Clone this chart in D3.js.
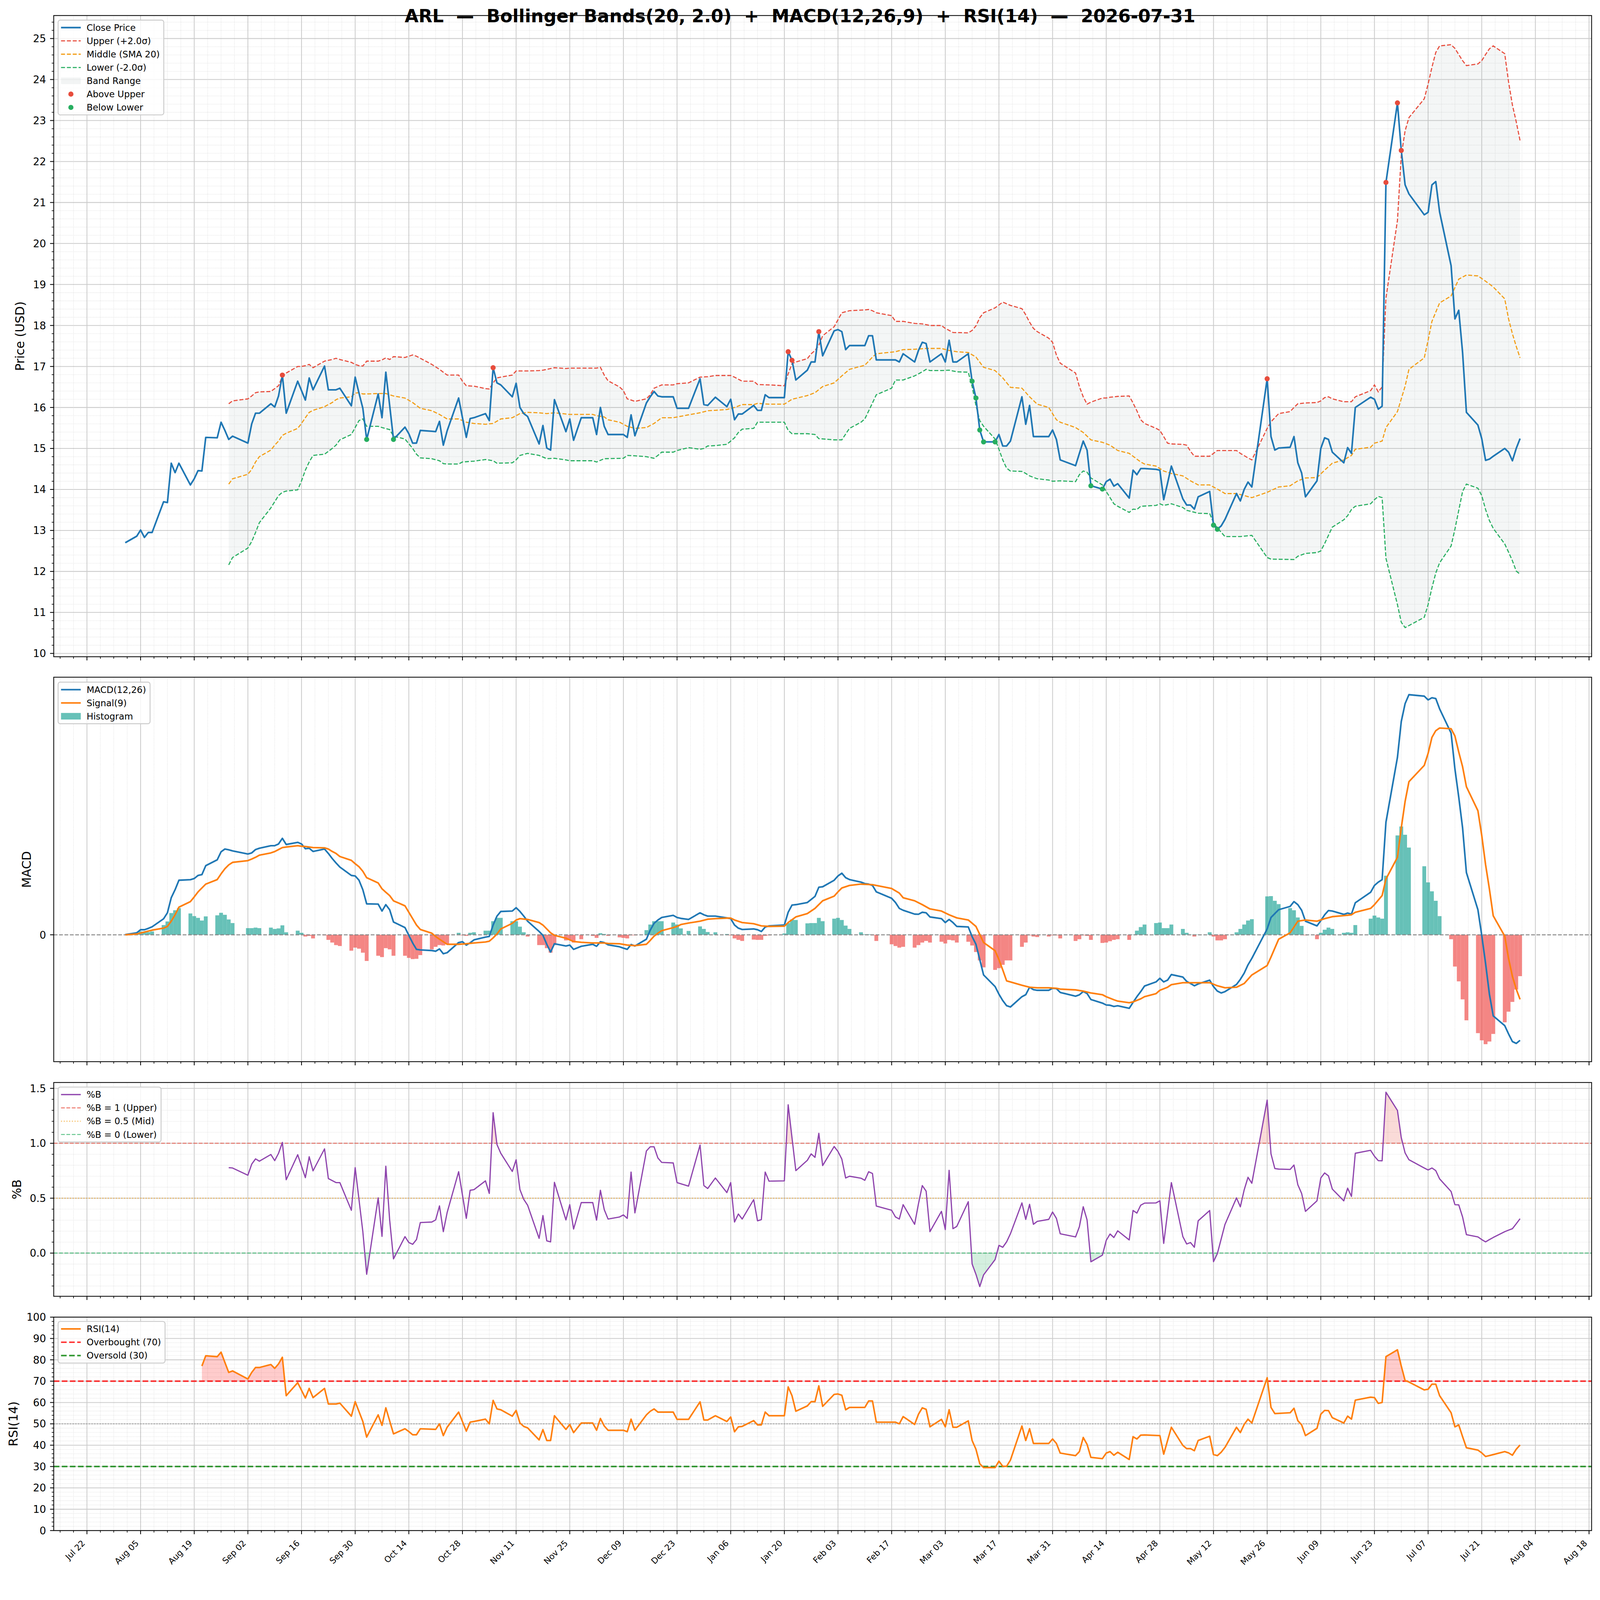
<!DOCTYPE html>
<html><head><meta charset="utf-8">
<script src="https://cdn.jsdelivr.net/npm/d3@7"></script>
<style>
html,body{margin:0;padding:0;background:#fff;overflow:hidden;width:100%;height:100%}
svg{display:block;width:100vw;height:100vh}
text{font-family:"DejaVu Sans",Verdana,sans-serif;fill:#000}
</style>
</head><body>
<svg id="chart" viewBox="0 0 4378 4322" preserveAspectRatio="xMidYMin meet"></svg>
<script>
// ---------------- DATA (dates as MM-DD; Aug–Dec = 2025, Jan–Jul = 2026) ----------------
const closeData = [
["08-01",12.70],["08-04",12.86],["08-05",13.01],["08-06",12.83],["08-07",12.95],["08-08",12.95],["08-11",13.70],["08-12",13.68],
["08-13",14.64],["08-14",14.41],["08-15",14.64],["08-18",14.11],["08-19",14.26],["08-20",14.46],["08-21",14.45],["08-22",15.27],
["08-25",15.26],["08-26",15.64],["08-27",15.44],["08-28",15.22],["08-29",15.30],["09-02",15.13],["09-03",15.60],["09-04",15.86],
["09-05",15.86],["09-08",16.09],["09-09",16.01],["09-10",16.28],["09-11",16.79],["09-12",15.86],["09-15",16.64],["09-16",16.41],
["09-17",16.18],["09-18",16.72],["09-19",16.43],["09-22",17.01],["09-23",16.43],["09-24",16.43],["09-25",16.43],["09-26",16.47],
["09-29",16.04],["09-30",16.74],["10-01",16.35],["10-02",15.98],["10-03",15.22],["10-06",16.33],["10-07",15.75],["10-08",16.86],
["10-09",16.05],["10-10",15.22],["10-13",15.52],["10-14",15.36],["10-15",15.13],["10-16",15.13],["10-17",15.44],["10-20",15.42],
["10-21",15.41],["10-22",15.66],["10-23",15.08],["10-24",15.43],["10-27",16.23],["10-28",15.75],["10-29",15.27],["10-30",15.73],
["10-31",15.75],["11-03",15.85],["11-04",15.68],["11-05",16.97],["11-06",16.60],["11-07",16.55],["11-10",16.26],["11-11",16.59],
["11-12",16.00],["11-13",15.85],["11-14",15.78],["11-17",15.11],["11-18",15.56],["11-19",15.01],["11-20",14.96],["11-21",16.19],
["11-24",15.41],["11-25",15.72],["11-26",15.20],["11-28",15.75],["12-01",15.75],["12-02",15.34],["12-03",16.00],["12-04",15.54],
["12-05",15.34],["12-08",15.34],["12-09",15.34],["12-10",15.27],["12-11",15.82],["12-12",15.31],["12-15",16.11],["12-16",16.26],
["12-17",16.39],["12-18",16.28],["12-19",16.26],["12-22",16.26],["12-23",15.98],["12-24",15.98],["12-26",15.98],["12-29",16.70],
["12-30",16.07],["12-31",16.05],["01-02",16.25],["01-05",16.02],["01-06",16.20],["01-07",15.70],["01-08",15.84],["01-09",15.84],
["01-12",16.05],["01-13",15.93],["01-14",15.93],["01-15",16.31],["01-16",16.24],["01-20",16.24],["01-21",17.36],["01-22",17.15],
["01-23",16.67],["01-26",16.91],["01-27",17.11],["01-28",17.11],["01-29",17.85],["01-30",17.26],["02-02",17.87],["02-03",17.90],
["02-04",17.85],["02-05",17.41],["02-06",17.51],["02-09",17.51],["02-10",17.51],["02-11",17.75],["02-12",17.75],["02-13",17.16],
["02-17",17.16],["02-18",17.16],["02-19",17.11],["02-20",17.31],["02-23",17.11],["02-24",17.39],["02-25",17.59],["02-26",17.56],
["02-27",17.11],["03-02",17.31],["03-03",17.11],["03-04",17.64],["03-05",17.11],["03-06",17.11],["03-09",17.31],["03-10",16.64],
["03-11",16.23],["03-12",15.45],["03-13",15.16],["03-16",15.16],["03-17",15.34],["03-18",15.06],["03-19",15.06],["03-20",15.18],
["03-23",16.26],["03-24",15.59],["03-25",16.05],["03-26",15.29],["03-27",15.29],["03-30",15.29],["03-31",15.45],["04-01",15.22],
["04-02",14.72],["04-06",14.58],["04-07",14.88],["04-08",15.18],["04-09",14.96],["04-10",14.09],["04-13",14.01],["04-14",14.19],
["04-15",14.25],["04-16",14.08],["04-17",14.14],["04-20",13.79],["04-21",14.47],["04-22",14.36],["04-23",14.51],["04-24",14.51],
["04-27",14.49],["04-28",14.47],["04-29",13.75],["04-30",14.15],["05-01",14.57],["05-04",13.77],["05-05",13.62],["05-06",13.62],
["05-07",13.52],["05-08",13.82],["05-11",13.95],["05-12",13.13],["05-13",13.03],["05-14",13.11],["05-15",13.27],["05-18",13.90],
["05-19",13.72],["05-20",14.00],["05-21",14.18],["05-22",14.06],["05-26",16.70],["05-27",15.29],["05-28",14.96],["05-29",15.01],
["06-01",15.03],["06-02",15.29],["06-03",14.65],["06-04",14.40],["06-05",13.82],["06-08",14.21],["06-09",15.00],["06-10",15.26],
["06-11",15.22],["06-12",14.91],["06-15",14.65],["06-16",15.02],["06-17",14.88],["06-18",16.00],["06-22",16.25],["06-23",16.20],
["06-24",15.96],["06-25",16.03],["06-26",21.49],["06-29",23.43],["06-30",22.27],["07-01",21.43],["07-02",21.21],["07-06",20.70],
["07-07",20.76],["07-08",21.43],["07-09",21.51],["07-10",20.77],["07-13",19.46],["07-14",18.16],["07-15",18.37],["07-16",17.34],
["07-17",15.88],["07-20",15.57],["07-21",15.24],["07-22",14.71],["07-23",14.74],["07-24",14.81],["07-27",15.00],["07-28",14.91],
["07-29",14.70],["07-30",15.00],["07-31",15.24]];

const upperData = [
["08-28",16.09],["08-29",16.16],["09-02",16.21],["09-03",16.28],["09-04",16.36],["09-05",16.38],["09-08",16.39],["09-10",16.53],
["09-11",16.76],["09-12",16.84],["09-15",17.00],["09-16",17.00],["09-17",17.02],["09-18",17.05],["09-19",16.97],["09-22",17.13],
["09-24",17.17],["09-25",17.20],["09-26",17.17],["09-29",17.10],["09-30",17.05],["10-01",17.02],["10-02",17.01],["10-03",17.13],
["10-06",17.13],["10-07",17.16],["10-08",17.21],["10-09",17.17],["10-10",17.24],["10-13",17.22],["10-14",17.25],["10-15",17.28],
["10-16",17.25],["10-17",17.20],["10-20",17.05],["10-22",16.93],["10-24",16.79],["10-27",16.79],["10-28",16.64],["10-29",16.53],
["10-31",16.52],["11-03",16.46],["11-04",16.45],["11-05",16.60],["11-06",16.72],["11-07",16.74],["11-10",16.79],["11-11",16.89],
["11-14",16.89],["11-17",16.90],["11-18",16.91],["11-21",16.97],["11-24",16.95],["11-25",16.96],["12-02",16.96],["12-03",16.98],
["12-04",16.79],["12-05",16.65],["12-08",16.50],["12-09",16.41],["12-10",16.21],["12-12",16.15],["12-15",16.21],["12-16",16.31],
["12-17",16.47],["12-19",16.55],["12-22",16.55],["12-23",16.58],["12-26",16.60],["12-29",16.74],["12-31",16.75],["01-02",16.78],
["01-06",16.78],["01-07",16.74],["01-09",16.64],["01-12",16.64],["01-13",16.56],["01-16",16.55],["01-20",16.53],["01-21",16.82],
["01-22",17.07],["01-23",17.11],["01-26",17.19],["01-27",17.31],["01-28",17.39],["01-29",17.52],["01-30",17.75],["02-02",17.97],
["02-03",18.14],["02-04",18.31],["02-06",18.36],["02-10",18.38],["02-11",18.39],["02-12",18.36],["02-13",18.31],["02-17",18.24],
["02-18",18.10],["02-20",18.10],["02-23",18.05],["02-25",18.04],["02-27",18.00],["03-02",18.00],["03-03",17.93],["03-05",17.83],
["03-09",17.82],["03-10",17.88],["03-11",17.99],["03-12",18.19],["03-13",18.31],["03-16",18.43],["03-17",18.50],["03-18",18.57],
["03-20",18.49],["03-23",18.41],["03-24",18.26],["03-25",18.08],["03-26",17.93],["03-27",17.85],["03-30",17.69],["03-31",17.59],
["04-01",17.28],["04-02",17.08],["04-06",16.84],["04-07",16.51],["04-08",16.26],["04-09",16.08],["04-10",16.13],["04-13",16.23],
["04-14",16.23],["04-15",16.25],["04-17",16.27],["04-20",16.28],["04-21",16.11],["04-22",15.92],["04-23",15.70],["04-24",15.61],
["04-27",15.49],["04-28",15.44],["04-29",15.29],["04-30",15.13],["05-01",15.11],["05-04",15.10],["05-05",15.08],["05-06",14.93],
["05-07",14.81],["05-11",14.81],["05-12",14.88],["05-13",14.95],["05-18",14.95],["05-19",14.88],["05-21",14.77],["05-22",14.72],
["05-26",15.49],["05-27",15.65],["05-28",15.75],["05-29",15.85],["06-01",15.90],["06-02",16.00],["06-03",16.09],["06-05",16.11],
["06-08",16.12],["06-09",16.16],["06-10",16.24],["06-11",16.26],["06-12",16.21],["06-15",16.14],["06-17",16.14],["06-18",16.26],
["06-22",16.41],["06-23",16.55],["06-24",16.38],["06-25",16.50],["06-26",18.67],["06-29",20.56],["06-30",22.15],["07-01",22.75],
["07-02",23.07],["07-06",23.53],["07-07",23.89],["07-08",24.30],["07-09",24.66],["07-10",24.82],["07-13",24.85],["07-14",24.76],
["07-15",24.61],["07-16",24.46],["07-17",24.34],["07-20",24.38],["07-21",24.46],["07-22",24.61],["07-23",24.75],["07-24",24.82],
["07-27",24.63],["07-28",23.94],["07-29",23.38],["07-30",22.97],["07-31",22.51]];

const middleData = [
["08-28",14.13],["08-29",14.26],["09-02",14.37],["09-03",14.49],["09-04",14.67],["09-05",14.80],["09-08",14.96],["09-09",15.08],
["09-10",15.18],["09-11",15.32],["09-12",15.37],["09-15",15.49],["09-16",15.61],["09-17",15.75],["09-18",15.88],["09-19",15.93],
["09-22",16.02],["09-23",16.07],["09-24",16.12],["09-25",16.19],["09-26",16.23],["09-29",16.26],["09-30",16.35],["10-01",16.36],
["10-02",16.33],["10-03",16.33],["10-06",16.34],["10-08",16.34],["10-10",16.28],["10-13",16.23],["10-15",16.12],["10-16",16.05],
["10-17",15.98],["10-20",15.92],["10-22",15.83],["10-24",15.72],["10-27",15.72],["10-29",15.64],["10-31",15.61],["11-03",15.59],
["11-05",15.61],["11-07",15.72],["11-10",15.75],["11-12",15.85],["11-14",15.88],["11-17",15.87],["11-19",15.85],["11-21",15.87],
["11-24",15.84],["11-25",15.83],["12-01",15.83],["12-02",15.80],["12-04",15.77],["12-05",15.70],["12-08",15.64],["12-10",15.54],
["12-12",15.49],["12-15",15.51],["12-17",15.61],["12-19",15.75],["12-22",15.75],["12-26",15.82],["12-29",15.87],["12-31",15.92],
["01-02",15.93],["01-05",15.95],["01-07",16.00],["01-09",16.07],["01-12",16.07],["01-13",16.10],["01-16",16.08],["01-20",16.08],
["01-22",16.20],["01-26",16.29],["01-28",16.36],["01-30",16.51],["02-02",16.60],["02-04",16.77],["02-06",16.93],["02-10",17.03],
["02-12",17.23],["02-13",17.31],["02-18",17.36],["02-20",17.41],["02-23",17.42],["02-26",17.44],["03-02",17.44],["03-04",17.39],
["03-06",17.36],["03-09",17.34],["03-11",17.23],["03-13",16.98],["03-16",16.90],["03-18",16.72],["03-20",16.49],["03-23",16.47],
["03-25",16.26],["03-27",16.08],["03-30",16.00],["04-01",15.70],["04-02",15.64],["04-06",15.51],["04-08",15.39],["04-10",15.21],
["04-13",15.15],["04-15",15.08],["04-17",14.95],["04-20",14.88],["04-23",14.67],["04-24",14.62],["04-27",14.57],["04-29",14.45],
["05-01",14.39],["05-04",14.33],["05-06",14.21],["05-08",14.11],["05-11",14.11],["05-13",14.01],["05-15",13.90],["05-18",13.90],
["05-22",13.80],["05-26",13.93],["05-29",14.06],["06-01",14.09],["06-03",14.21],["06-05",14.28],["06-08",14.29],["06-10",14.47],
["06-12",14.64],["06-15",14.72],["06-17",14.83],["06-18",14.98],["06-22",15.03],["06-23",15.13],["06-25",15.18],["06-26",15.51],
["06-29",15.90],["06-30",16.21],["07-01",16.52],["07-02",16.93],["07-06",17.21],["07-07",17.64],["07-08",18.10],["07-10",18.55],
["07-13",18.72],["07-15",19.13],["07-17",19.23],["07-20",19.21],["07-22",19.08],["07-24",18.94],["07-27",18.65],["07-28",18.16],
["07-29",17.80],["07-30",17.49],["07-31",17.21]];

const lowerData = [
["08-28",12.16],["08-29",12.34],["09-02",12.57],["09-03",12.73],["09-04",12.95],["09-05",13.19],["09-08",13.55],["09-09",13.70],
["09-10",13.85],["09-11",13.93],["09-12",13.96],["09-15",13.99],["09-16",14.21],["09-17",14.47],["09-18",14.67],["09-19",14.83],
["09-22",14.86],["09-23",14.93],["09-24",15.00],["09-25",15.08],["09-26",15.21],["09-29",15.34],["09-30",15.51],["10-01",15.68],
["10-02",15.72],["10-03",15.54],["10-06",15.54],["10-07",15.51],["10-09",15.46],["10-10",15.30],["10-13",15.23],["10-15",15.00],
["10-16",14.86],["10-17",14.77],["10-20",14.75],["10-22",14.70],["10-23",14.63],["10-24",14.62],["10-27",14.62],["10-28",14.67],
["10-31",14.69],["11-03",14.73],["11-05",14.70],["11-06",14.64],["11-10",14.65],["11-11",14.72],["11-12",14.83],["11-14",14.88],
["11-17",14.83],["11-19",14.75],["11-21",14.76],["11-24",14.72],["11-25",14.70],["12-01",14.70],["12-02",14.67],["12-04",14.75],
["12-09",14.76],["12-10",14.83],["12-12",14.82],["12-15",14.80],["12-17",14.76],["12-18",14.83],["12-19",14.91],["12-22",14.91],
["12-23",14.95],["12-26",15.02],["12-29",14.98],["12-30",15.00],["12-31",15.06],["01-02",15.07],["01-05",15.10],["01-06",15.18],
["01-07",15.26],["01-08",15.39],["01-09",15.47],["01-12",15.49],["01-13",15.64],["01-16",15.64],["01-20",15.64],["01-21",15.44],
["01-22",15.36],["01-26",15.36],["01-28",15.34],["01-29",15.24],["02-02",15.21],["02-04",15.21],["02-06",15.49],["02-09",15.64],
["02-10",15.72],["02-12",16.11],["02-13",16.31],["02-17",16.47],["02-18",16.67],["02-20",16.67],["02-23",16.77],["02-25",16.87],
["02-26",16.93],["02-27",16.90],["03-02",16.90],["03-04",16.91],["03-06",16.87],["03-09",16.86],["03-10",16.51],["03-11",16.05],
["03-12",15.68],["03-13",15.54],["03-16",15.23],["03-17",14.98],["03-18",14.72],["03-19",14.52],["03-20",14.45],["03-23",14.44],
["03-24",14.39],["03-25",14.33],["03-27",14.26],["03-30",14.23],["03-31",14.20],["04-02",14.21],["04-06",14.19],["04-07",14.36],
["04-08",14.45],["04-09",14.42],["04-10",14.28],["04-13",14.11],["04-14",13.95],["04-16",13.65],["04-17",13.59],["04-20",13.44],
["04-21",13.52],["04-22",13.51],["04-23",13.59],["04-27",13.61],["04-28",13.65],["04-29",13.61],["05-01",13.65],["05-04",13.56],
["05-05",13.49],["05-08",13.42],["05-11",13.41],["05-12",13.19],["05-13",13.06],["05-15",12.85],["05-19",12.85],["05-22",12.88],
["05-26",12.34],["05-27",12.30],["06-02",12.29],["06-03",12.37],["06-05",12.44],["06-08",12.46],["06-09",12.50],["06-10",12.68],
["06-12",13.08],["06-15",13.26],["06-16",13.36],["06-17",13.51],["06-18",13.59],["06-22",13.65],["06-23",13.75],["06-24",13.83],
["06-25",13.80],["06-26",12.32],["06-29",11.19],["06-30",10.76],["07-01",10.63],["07-02",10.68],["07-06",10.88],["07-07",11.19],
["07-08",11.60],["07-09",11.96],["07-10",12.21],["07-13",12.62],["07-14",13.03],["07-15",13.49],["07-16",13.95],["07-17",14.13],
["07-20",14.03],["07-21",13.85],["07-22",13.51],["07-23",13.24],["07-24",13.05],["07-27",12.67],["07-28",12.47],["07-29",12.26],
["07-30",12.01],["07-31",11.93]];

const aboveUpperDates = ["09-11","11-05","01-21","01-22","01-29","05-26","06-26","06-29","06-30"];
const belowLowerDates = ["10-03","10-10","03-10","03-11","03-12","03-13","03-16","04-10","04-13","05-12","05-13"];

const macdData = [
["08-01",0.002],["08-04",0.015],["08-05",0.038],["08-06",0.038],["08-07",0.048],["08-08",0.060],["08-11",0.120],["08-12",0.165],
["08-13",0.278],["08-14",0.338],["08-15",0.409],["08-18",0.413],["08-19",0.422],["08-20",0.445],["08-21",0.451],["08-22",0.518],
["08-25",0.562],["08-26",0.622],["08-27",0.643],["08-28",0.637],["08-29",0.629],["09-02",0.606],["09-03",0.614],["09-04",0.639],
["09-05",0.649],["09-08",0.668],["09-09",0.668],["09-10",0.681],["09-11",0.723],["09-12",0.677],["09-15",0.693],["09-16",0.681],
["09-17",0.645],["09-18",0.649],["09-19",0.625],["09-22",0.643],["09-23",0.610],["09-24",0.572],["09-25",0.539],["09-26",0.508],
["09-29",0.445],["09-30",0.441],["10-01",0.409],["10-02",0.338],["10-03",0.232],["10-06",0.230],["10-07",0.178],["10-08",0.226],
["10-09",0.188],["10-10",0.096],["10-13",0.054],["10-14",-0.004],["10-15",-0.061],["10-16",-0.109],["10-17",-0.113],["10-20",-0.118],
["10-21",-0.123],["10-22",-0.106],["10-23",-0.142],["10-24",-0.134],["10-27",-0.058],["10-28",-0.052],["10-29",-0.077],["10-30",-0.060],
["10-31",-0.038],["11-03",-0.017],["11-04",-0.012],["11-05",0.073],["11-06",0.140],["11-07",0.175],["11-10",0.178],["11-11",0.203],
["11-12",0.175],["11-13",0.140],["11-14",0.102],["11-17",0.025],["11-18",-0.004],["11-19",-0.071],["11-20",-0.129],["11-21",-0.067],
["11-24",-0.084],["11-25",-0.077],["11-26",-0.109],["11-28",-0.086],["12-01",-0.071],["12-02",-0.086],["12-03",-0.052],["12-04",-0.058],
["12-05",-0.075],["12-08",-0.090],["12-09",-0.100],["12-10",-0.109],["12-11",-0.073],["12-12",-0.084],["12-15",-0.033],["12-16",0.035],
["12-17",0.086],["12-18",0.111],["12-19",0.130],["12-22",0.146],["12-23",0.130],["12-24",0.123],["12-26",0.115],["12-29",0.165],
["12-30",0.150],["12-31",0.140],["01-02",0.140],["01-05",0.127],["01-06",0.121],["01-07",0.073],["01-08",0.050],["01-09",0.040],
["01-12",0.044],["01-13",0.038],["01-14",0.025],["01-15",0.058],["01-16",0.067],["01-20",0.073],["01-21",0.169],["01-22",0.223],
["01-23",0.226],["01-26",0.242],["01-27",0.265],["01-28",0.288],["01-29",0.357],["01-30",0.360],["02-02",0.409],["02-03",0.441],
["02-04",0.462],["02-05",0.428],["02-06",0.414],["02-09",0.395],["02-10",0.384],["02-11",0.380],["02-12",0.370],["02-13",0.322],
["02-17",0.274],["02-18",0.242],["02-19",0.198],["02-20",0.184],["02-23",0.155],["02-24",0.154],["02-25",0.169],["02-26",0.165],
["02-27",0.134],["03-02",0.121],["03-03",0.092],["03-04",0.115],["03-05",0.092],["03-06",0.063],["03-09",0.059],["03-10",-0.013],
["03-11",-0.071],["03-12",-0.186],["03-13",-0.301],["03-16",-0.388],["03-17",-0.445],["03-18",-0.493],["03-19",-0.531],["03-20",-0.541],
["03-23",-0.464],["03-24",-0.449],["03-25",-0.393],["03-26",-0.411],["03-27",-0.416],["03-30",-0.416],["03-31",-0.401],["04-01",-0.403],
["04-02",-0.432],["04-06",-0.460],["04-07",-0.450],["04-08",-0.425],["04-09",-0.440],["04-10",-0.485],["04-13",-0.512],["04-14",-0.526],
["04-15",-0.528],["04-16",-0.537],["04-17",-0.532],["04-20",-0.551],["04-21",-0.507],["04-22",-0.464],["04-23",-0.426],["04-24",-0.384],
["04-27",-0.353],["04-28",-0.326],["04-29",-0.353],["04-30",-0.340],["05-01",-0.298],["05-04",-0.317],["05-05",-0.349],["05-06",-0.365],
["05-07",-0.382],["05-08",-0.368],["05-11",-0.340],["05-12",-0.388],["05-13",-0.422],["05-14",-0.436],["05-15",-0.426],["05-18",-0.372],
["05-19",-0.334],["05-20",-0.288],["05-21",-0.225],["05-22",-0.177],["05-26",0.044],["05-27",0.130],["05-28",0.159],["05-29",0.188],
["06-01",0.213],["06-02",0.249],["06-03",0.226],["06-04",0.184],["06-05",0.102],["06-08",0.067],["06-09",0.106],["06-10",0.150],
["06-11",0.182],["06-12",0.178],["06-15",0.153],["06-16",0.163],["06-17",0.155],["06-18",0.240],["06-22",0.319],["06-23",0.370],
["06-24",0.395],["06-25",0.413],["06-26",0.844],["06-29",1.330],["06-30",1.599],["07-01",1.733],["07-02",1.800],["07-06",1.789],
["07-07",1.761],["07-08",1.777],["07-09",1.771],["07-10",1.694],["07-13",1.512],["07-14",1.243],["07-15",1.032],["07-16",0.802],
["07-17",0.466],["07-20",0.188],["07-21",-0.004],["07-22",-0.215],["07-23",-0.445],["07-24",-0.608],["07-27",-0.681],["07-28",-0.743],
["07-29",-0.800],["07-30",-0.814],["07-31",-0.791]];

const signalData = [
["08-01",0.000],["08-04",0.006],["08-08",0.035],["08-11",0.050],["08-12",0.063],["08-13",0.102],["08-14",0.150],["08-15",0.207],
["08-18",0.249],["08-19",0.284],["08-20",0.322],["08-22",0.380],["08-25",0.414],["08-26",0.457],["08-27",0.495],["08-28",0.524],
["08-29",0.543],["09-02",0.556],["09-03",0.568],["09-04",0.581],["09-05",0.597],["09-08",0.614],["09-09",0.624],["09-10",0.639],
["09-11",0.654],["09-12",0.658],["09-15",0.668],["09-16",0.664],["09-17",0.662],["09-19",0.654],["09-22",0.652],["09-23",0.643],
["09-24",0.625],["09-25",0.610],["09-26",0.587],["09-29",0.558],["09-30",0.533],["10-01",0.510],["10-02",0.476],["10-03",0.428],
["10-06",0.389],["10-07",0.345],["10-08",0.319],["10-09",0.294],["10-10",0.255],["10-13",0.217],["10-14",0.169],["10-15",0.121],
["10-16",0.073],["10-17",0.040],["10-20",0.012],["10-21",-0.013],["10-22",-0.033],["10-24",-0.071],["10-27",-0.071],["10-29",-0.067],
["10-31",-0.061],["11-03",-0.054],["11-04",-0.048],["11-05",-0.023],["11-06",0.006],["11-07",0.044],["11-10",0.086],["11-11",0.111],
["11-12",0.121],["11-14",0.115],["11-17",0.092],["11-18",0.073],["11-19",0.044],["11-20",0.015],["11-21",-0.004],["11-24",-0.025],
["11-25",-0.038],["11-26",-0.050],["11-28",-0.056],["12-01",-0.061],["12-04",-0.061],["12-05",-0.065],["12-08",-0.067],["12-10",-0.077],
["12-12",-0.081],["12-15",-0.071],["12-16",-0.042],["12-17",-0.010],["12-18",0.012],["12-19",0.031],["12-22",0.054],["12-23",0.063],
["12-24",0.077],["12-26",0.088],["12-29",0.102],["12-31",0.117],["01-02",0.121],["01-05",0.125],["01-06",0.125],["01-07",0.111],
["01-09",0.092],["01-12",0.083],["01-14",0.067],["01-16",0.063],["01-20",0.065],["01-21",0.092],["01-23",0.134],["01-26",0.159],
["01-28",0.198],["01-30",0.255],["02-02",0.290],["02-03",0.322],["02-04",0.351],["02-06",0.370],["02-09",0.380],["02-12",0.376],
["02-13",0.370],["02-17",0.347],["02-19",0.313],["02-20",0.278],["02-23",0.255],["02-25",0.226],["02-27",0.194],["03-02",0.178],
["03-04",0.150],["03-06",0.127],["03-09",0.111],["03-11",0.063],["03-13",-0.058],["03-16",-0.119],["03-17",-0.186],["03-18",-0.263],
["03-19",-0.345],["03-20",-0.353],["03-23",-0.378],["03-25",-0.393],["03-27",-0.397],["03-30",-0.397],["04-01",-0.401],["04-02",-0.407],
["04-06",-0.413],["04-08",-0.422],["04-10",-0.436],["04-13",-0.449],["04-14",-0.464],["04-16",-0.487],["04-17",-0.497],["04-20",-0.509],
["04-21",-0.503],["04-23",-0.480],["04-24",-0.464],["04-27",-0.441],["04-28",-0.416],["04-30",-0.393],["05-01",-0.374],["05-04",-0.359],
["05-07",-0.359],["05-11",-0.359],["05-13",-0.382],["05-15",-0.397],["05-18",-0.393],["05-20",-0.365],["05-22",-0.301],["05-26",-0.230],
["05-27",-0.167],["05-29",-0.033],["06-01",0.015],["06-03",0.102],["06-05",0.111],["06-08",0.102],["06-10",0.121],["06-12",0.136],
["06-15",0.144],["06-17",0.150],["06-18",0.169],["06-22",0.198],["06-23",0.226],["06-25",0.294],["06-26",0.418],["06-29",0.581],
["06-30",0.802],["07-01",1.000],["07-02",1.148],["07-06",1.270],["07-07",1.360],["07-08",1.480],["07-09",1.530],["07-10",1.550],
["07-13",1.545],["07-14",1.490],["07-15",1.370],["07-16",1.260],["07-17",1.110],["07-20",0.930],["07-21",0.745],["07-22",0.526],
["07-23",0.343],["07-24",0.142],["07-27",-0.010],["07-28",-0.177],["07-29",-0.311],["07-30",-0.407],["07-31",-0.484]];

const histData = [
["08-04",0.010],["08-05",0.025],["08-06",0.020],["08-07",0.020],["08-08",0.025],["08-11",0.073],["08-12",0.100],["08-13",0.163],
["08-14",0.184],["08-15",0.200],["08-18",0.160],["08-19",0.140],["08-20",0.127],["08-21",0.107],["08-22",0.138],["08-25",0.146],
["08-26",0.165],["08-27",0.150],["08-28",0.115],["08-29",0.088],["09-02",0.050],["09-03",0.050],["09-04",0.054],["09-05",0.050],
["09-08",0.054],["09-09",0.044],["09-10",0.048],["09-11",0.071],["09-12",0.019],["09-15",0.031],["09-16",0.015],["09-17",-0.013],
["09-18",-0.008],["09-19",-0.027],["09-22",-0.004],["09-23",-0.038],["09-24",-0.058],["09-25",-0.077],["09-26",-0.084],["09-29",-0.119],
["09-30",-0.096],["10-01",-0.104],["10-02",-0.134],["10-03",-0.196],["10-06",-0.157],["10-07",-0.167],["10-08",-0.100],["10-09",-0.109],
["10-10",-0.157],["10-13",-0.157],["10-14",-0.173],["10-15",-0.182],["10-16",-0.180],["10-17",-0.152],["10-20",-0.109],["10-21",-0.090],
["10-22",-0.077],["10-23",-0.080],["10-24",-0.071],["10-27",0.015],["10-28",-0.004],["10-29",-0.008],["10-30",0.015],["10-31",0.019],
["11-03",0.031],["11-04",0.031],["11-05",0.102],["11-06",0.127],["11-07",0.127],["11-10",0.102],["11-11",0.102],["11-12",0.061],
["11-13",0.019],["11-14",-0.013],["11-17",-0.077],["11-18",-0.077],["11-19",-0.100],["11-20",-0.134],["11-21",-0.077],["11-24",-0.042],
["11-25",-0.038],["11-26",-0.058],["11-28",-0.033],["12-01",-0.008],["12-02",-0.023],["12-03",0.012],["12-04",0.006],["12-05",-0.008],
["12-08",-0.019],["12-09",-0.023],["12-10",-0.027],["12-11",-0.004],["12-12",-0.004],["12-15",0.035],["12-16",0.077],["12-17",0.102],
["12-18",0.102],["12-19",0.102],["12-22",0.092],["12-23",0.077],["12-24",0.048],["12-26",0.029],["12-29",0.063],["12-30",0.044],
["12-31",0.021],["01-02",0.019],["01-05",0.006],["01-06",-0.004],["01-07",-0.027],["01-08",-0.038],["01-09",-0.046],["01-12",-0.036],
["01-13",-0.038],["01-14",-0.038],["01-15",-0.008],["01-16",-0.004],["01-20",0.010],["01-21",0.088],["01-22",0.115],["01-23",0.111],
["01-26",0.086],["01-27",0.088],["01-28",0.088],["01-29",0.127],["01-30",0.102],["02-02",0.121],["02-03",0.127],["02-04",0.111],
["02-05",0.069],["02-06",0.044],["02-09",0.019],["02-10",0.004],["02-11",0.004],["02-12",-0.004],["02-13",-0.046],["02-17",-0.071],
["02-18",-0.084],["02-19",-0.096],["02-20",-0.090],["02-23",-0.096],["02-24",-0.077],["02-25",-0.058],["02-26",-0.046],["02-27",-0.058],
["03-02",-0.052],["03-03",-0.065],["03-04",-0.038],["03-05",-0.042],["03-06",-0.058],["03-09",-0.052],["03-10",-0.080],["03-11",-0.129],
["03-12",-0.192],["03-13",-0.244],["03-16",-0.263],["03-17",-0.250],["03-18",-0.225],["03-19",-0.192],["03-20",-0.192],["03-23",-0.090],
["03-24",-0.058],["03-25",-0.004],["03-26",-0.013],["03-27",-0.017],["03-30",-0.013],["03-31",-0.004],["04-01",-0.004],["04-02",-0.027],
["04-06",-0.046],["04-07",-0.033],["04-08",-0.004],["04-09",-0.008],["04-10",-0.038],["04-13",-0.061],["04-14",-0.058],["04-15",-0.048],
["04-16",-0.038],["04-17",-0.033],["04-20",-0.038],["04-21",0.002],["04-22",0.031],["04-23",0.058],["04-24",0.077],["04-27",0.088],
["04-28",0.092],["04-29",0.050],["04-30",0.050],["05-01",0.077],["05-04",0.044],["05-05",0.015],["05-06",0.002],["05-07",-0.013],
["05-08",0.002],["05-11",0.019],["05-12",-0.013],["05-13",-0.042],["05-14",-0.042],["05-15",-0.033],["05-18",0.019],["05-19",0.044],
["05-20",0.077],["05-21",0.107],["05-22",0.117],["05-26",0.288],["05-27",0.290],["05-28",0.255],["05-29",0.230],["06-01",0.200],
["06-02",0.184],["06-03",0.130],["06-04",0.067],["06-05",-0.004],["06-08",-0.033],["06-09",0.015],["06-10",0.038],["06-11",0.054],
["06-12",0.044],["06-15",0.015],["06-16",0.019],["06-17",0.015],["06-18",0.073],["06-22",0.121],["06-23",0.144],["06-24",0.130],
["06-25",0.121],["06-26",0.443],["06-29",0.745],["06-30",0.812],["07-01",0.750],["07-02",0.654],["07-06",0.514],["07-07",0.393],
["07-08",0.326],["07-09",0.255],["07-10",0.140],["07-13",-0.033],["07-14",-0.238],["07-15",-0.349],["07-16",-0.484],["07-17",-0.641],
["07-20",-0.737],["07-21",-0.791],["07-22",-0.820],["07-23",-0.800],["07-24",-0.743],["07-27",-0.656],["07-28",-0.576],["07-29",-0.503],
["07-30",-0.410],["07-31",-0.310]];

const pctBData = [
["08-28",0.778],["08-29",0.775],["09-02",0.709],["09-03",0.810],["09-04",0.858],["09-05",0.837],["09-08",0.898],["09-09",0.842],
["09-10",0.909],["09-11",1.008],["09-12",0.668],["09-15",0.896],["09-17",0.687],["09-18",0.877],["09-19",0.749],["09-22",0.949],
["09-23",0.679],["09-25",0.642],["09-26",0.642],["09-29",0.390],["09-30",0.778],["10-02",0.195],["10-03",-0.193],["10-06",0.503],
["10-07",0.152],["10-08",0.791],["10-09",0.302],["10-10",-0.053],["10-13",0.150],["10-14",0.096],["10-15",0.080],["10-16",0.123],
["10-17",0.278],["10-20",0.283],["10-21",0.302],["10-22",0.430],["10-23",0.195],["10-24",0.369],["10-27",0.741],["10-29",0.316],
["10-30",0.572],["10-31",0.578],["11-03",0.658],["11-04",0.543],["11-05",1.278],["11-06",0.989],["11-07",0.909],["11-10",0.743],
["11-11",0.850],["11-12",0.578],["11-13",0.489],["11-14",0.436],["11-17",0.134],["11-18",0.342],["11-19",0.112],["11-20",0.102],
["11-21",0.644],["11-24",0.302],["11-25",0.441],["11-26",0.219],["11-28",0.460],["12-01",0.460],["12-02",0.300],["12-03",0.572],
["12-04",0.396],["12-05",0.310],["12-08",0.329],["12-09",0.348],["12-10",0.316],["12-11",0.738],["12-12",0.366],["12-15",0.930],
["12-16",0.968],["12-17",0.968],["12-18",0.866],["12-19",0.826],["12-22",0.821],["12-23",0.642],["12-26",0.610],["12-29",0.984],
["12-30",0.615],["12-31",0.588],["01-02",0.684],["01-05",0.551],["01-06",0.642],["01-07",0.283],["01-08",0.356],["01-09",0.310],
["01-12",0.487],["01-13",0.294],["01-14",0.305],["01-15",0.738],["01-16",0.655],["01-20",0.658],["01-21",1.350],["01-22",1.050],
["01-23",0.751],["01-26",0.845],["01-27",0.904],["01-28",0.872],["01-29",1.091],["01-30",0.797],["02-02",0.971],["02-03",0.925],
["02-04",0.856],["02-05",0.684],["02-06",0.700],["02-09",0.682],["02-10",0.663],["02-11",0.741],["02-12",0.725],["02-13",0.428],
["02-17",0.390],["02-18",0.329],["02-19",0.310],["02-20",0.441],["02-23",0.262],["02-24",0.449],["02-25",0.615],["02-26",0.564],
["02-27",0.195],["03-02",0.380],["03-03",0.214],["03-04",0.754],["03-05",0.222],["03-06",0.243],["03-09",0.468],["03-10",-0.099],
["03-11",-0.193],["03-12",-0.305],["03-13",-0.198],["03-16",-0.059],["03-17",0.070],["03-18",0.053],["03-19",0.102],["03-20",0.176],
["03-23",0.457],["03-24",0.307],["03-25",0.444],["03-26",0.262],["03-27",0.289],["03-30",0.307],["03-31",0.374],["04-01",0.316],
["04-02",0.176],["04-06",0.147],["04-07",0.241],["04-08",0.422],["04-09",0.302],["04-10",-0.079],["04-13",-0.019],["04-14",0.115],
["04-15",0.174],["04-16",0.142],["04-17",0.203],["04-20",0.120],["04-21",0.388],["04-22",0.364],["04-23",0.436],["04-24",0.455],
["04-27",0.457],["04-28",0.476],["04-29",0.088],["05-01",0.642],["05-04",0.150],["05-05",0.083],["05-06",0.096],["05-07",0.053],
["05-08",0.294],["05-11",0.388],["05-12",-0.078],["05-13",-0.005],["05-15",0.262],["05-18",0.503],["05-19",0.422],["05-20",0.575],
["05-21",0.690],["05-22",0.636],["05-26",1.393],["05-27",0.904],["05-28",0.770],["05-29",0.765],["06-01",0.762],["06-02",0.802],
["06-03",0.623],["06-04",0.543],["06-05",0.380],["06-08",0.476],["06-09",0.684],["06-10",0.730],["06-11",0.703],["06-12",0.583],
["06-15",0.476],["06-16",0.591],["06-17",0.516],["06-18",0.909],["06-22",0.936],["06-23",0.882],["06-24",0.842],["06-25",0.840],
["06-26",1.465],["06-29",1.299],["06-30",1.051],["07-01",0.912],["07-02",0.850],["07-06",0.775],["07-07",0.757],["07-08",0.775],
["07-09",0.751],["07-10",0.676],["07-13",0.561],["07-14",0.441],["07-15",0.439],["07-16",0.329],["07-17",0.168],["07-20",0.147],
["07-21",0.123],["07-22",0.102],["07-23",0.123],["07-24",0.142],["07-27",0.195],["07-28",0.209],["07-29",0.222],["07-30",0.267],
["07-31",0.313]];

const rsiData = [
["08-21",77.1],["08-22",81.9],["08-25",81.5],["08-26",83.6],["08-27",78.8],["08-28",74.1],["08-29",74.8],["09-02",71.0],
["09-03",74.1],["09-04",76.4],["09-05",76.4],["09-08",77.8],["09-09",76.0],["09-10",78.1],["09-11",81.2],["09-12",63.2],
["09-15",69.3],["09-17",62.1],["09-18",66.6],["09-19",62.3],["09-22",66.6],["09-23",59.3],["09-24",59.3],["09-25",59.3],
["09-26",59.7],["09-29",53.6],["09-30",60.4],["10-02",51.1],["10-03",43.8],["10-06",54.2],["10-07",49.3],["10-08",57.5],
["10-10",45.3],["10-13",47.7],["10-14",46.4],["10-15",44.9],["10-16",44.9],["10-17",47.7],["10-21",47.4],["10-22",50.0],
["10-23",44.5],["10-24",48.4],["10-27",55.5],["10-29",46.6],["10-30",50.8],["10-31",51.1],["11-03",52.2],["11-04",50.0],
["11-05",61.0],["11-06",57.0],["11-07",56.6],["11-10",53.6],["11-11",56.3],["11-12",50.4],["11-13",48.8],["11-14",48.1],
["11-17",42.5],["11-18",47.3],["11-19",42.2],["11-20",42.2],["11-21",53.8],["11-24",47.4],["11-25",49.7],["11-26",45.9],
["11-28",50.4],["12-01",50.4],["12-02",47.0],["12-03",52.5],["12-04",49.0],["12-05",47.0],["12-08",47.0],["12-09",47.0],
["12-10",46.3],["12-11",52.2],["12-12",47.0],["12-15",54.2],["12-16",55.9],["12-17",57.0],["12-18",55.5],["12-19",55.5],
["12-22",55.5],["12-23",52.1],["12-24",52.1],["12-26",52.1],["12-29",60.3],["12-30",51.8],["12-31",51.8],["01-02",53.8],
["01-05",51.1],["01-06",53.2],["01-07",46.3],["01-08",48.6],["01-09",48.8],["01-12",51.5],["01-13",49.5],["01-14",49.5],
["01-15",55.5],["01-16",53.8],["01-20",53.8],["01-21",67.3],["01-22",63.2],["01-23",55.9],["01-26",58.4],["01-27",60.4],
["01-28",60.4],["01-29",67.8],["01-30",58.2],["02-02",63.8],["02-03",64.0],["02-04",63.4],["02-05",56.6],["02-06",57.7],
["02-09",57.7],["02-10",57.7],["02-11",60.7],["02-12",60.7],["02-13",50.8],["02-17",50.8],["02-18",50.8],["02-19",50.0],
["02-20",53.4],["02-23",49.7],["02-24",54.5],["02-25",57.5],["02-26",56.8],["02-27",48.6],["03-02",52.1],["03-03",48.6],
["03-04",56.6],["03-05",48.4],["03-06",48.4],["03-09",51.4],["03-10",42.2],["03-11",38.1],["03-12",31.3],["03-13",29.5],
["03-16",29.5],["03-17",32.5],["03-18",30.1],["03-19",30.1],["03-20",33.0],["03-23",49.0],["03-24",42.2],["03-25",47.7],
["03-26",40.8],["03-27",40.8],["03-30",40.8],["03-31",42.9],["04-01",40.8],["04-02",36.3],["04-06",35.1],["04-07",37.0],
["04-08",43.6],["04-09",40.4],["04-10",34.3],["04-13",33.7],["04-14",36.3],["04-15",37.0],["04-16",35.3],["04-17",36.7],
["04-20",33.3],["04-21",44.0],["04-22",42.9],["04-23",44.7],["04-24",44.8],["04-28",44.5],["04-29",35.8],["05-01",48.4],
["05-04",39.9],["05-05",38.4],["05-06",38.4],["05-07",37.4],["05-08",42.2],["05-11",44.2],["05-12",35.6],["05-13",35.1],
["05-14",36.7],["05-15",39.0],["05-18",48.4],["05-19",45.9],["05-20",49.7],["05-21",52.2],["05-22",50.4],["05-26",71.6],
["05-27",57.7],["05-28",54.8],["06-01",55.2],["06-02",57.3],["06-03",51.5],["06-04",49.5],["06-05",44.5],["06-08",47.9],
["06-09",54.5],["06-10",56.3],["06-11",56.2],["06-12",52.9],["06-15",50.4],["06-16",53.6],["06-17",52.2],["06-18",61.1],
["06-22",62.5],["06-23",62.3],["06-24",59.6],["06-25",60.0],["06-26",81.5],["06-29",84.7],["06-30",77.1],["07-01",70.3],
["07-02",69.6],["07-06",65.9],["07-07",66.2],["07-08",68.6],["07-09",68.6],["07-10",63.2],["07-13",55.2],["07-14",48.6],
["07-15",49.5],["07-16",44.0],["07-17",38.8],["07-20",37.7],["07-21",36.4],["07-22",34.7],["07-24",35.6],["07-27",37.0],
["07-28",36.4],["07-29",35.3],["07-30",38.1],["07-31",40.1]];

const titleText = "ARL  \u2014  Bollinger Bands(20, 2.0)  +  MACD(12,26,9)  +  RSI(14)  \u2014  2026-07-31";
const priceTicks = [10,11,12,13,14,15,16,17,18,19,20,21,22,23,24,25];
const pctBTicks = [0, 0.5, 1.0, 1.5];
const rsiTicks = [0,10,20,30,40,50,60,70,80,90,100];
const macdTicks = [0];

// ---------------- HELPERS ----------------
const toDate = s => { const [m, d] = s.split("-").map(Number); return new Date(Date.UTC(m >= 8 ? 2025 : 2026, m - 1, d)); };
const pts = arr => arr.map(([d, v]) => ({ t: toDate(d), v }));
const close = pts(closeData), upper = pts(upperData), middle = pts(middleData), lower = pts(lowerData);
const macd = pts(macdData), signal = pts(signalData), hist = pts(histData), pctB = pts(pctBData), rsi = pts(rsiData);
const closeByKey = new Map(closeData);
const padExt = vals => { const [a, b] = d3.extent(vals); const p = (b - a) * 0.05; return [a - p, b + p]; };

const W = 4378, H = 4322, L = 147, R = 4355;
const DAY = 864e5;
const P = { price: { top: 42.5, bot: 1797 }, macd: { top: 1853, bot: 2905 }, pb: { top: 2962, bot: 3547 }, rsi: { top: 3604, bot: 4188 } };

const svg = d3.select("#chart");
svg.append("rect").attr("width", W).attr("height", H).attr("fill", "#fff");
const defs = svg.append("defs");

const tA = Date.UTC(2025, 6, 22), tB = Date.UTC(2026, 7, 18);
const x = d3.scaleUtc().domain([new Date(tA), new Date(tB)]).range([237.9, 4348]);
const inX = d => x(d) >= L - 0.5 && x(d) <= R + 0.5;
const majorX = d3.utcDay.range(new Date(tA), new Date(tB + DAY), 14).filter(inX);
const minorX = d3.range(-12, 130).filter(k => k % 4 !== 0).map(k => new Date(tA + k * 3.5 * DAY)).filter(inX);

function clipFor(id, top, bot) {
  defs.append("clipPath").attr("id", id).append("rect").attr("x", L).attr("y", top).attr("width", R - L).attr("height", bot - top);
  return `url(#${id})`;
}

function grids(p, y, yMajor, yMinor) {
  const g = svg.append("g");
  g.selectAll(null).data(minorX).join("line")
    .attr("x1", d => x(d)).attr("x2", d => x(d)).attr("y1", p.top).attr("y2", p.bot)
    .attr("stroke", "#d6d6d6").attr("stroke-width", 1.4).attr("stroke-dasharray", "1.4,2.4");
  g.selectAll(null).data(yMinor).join("line")
    .attr("x1", L).attr("x2", R).attr("y1", d => y(d)).attr("y2", d => y(d))
    .attr("stroke", "#d6d6d6").attr("stroke-width", 1.4).attr("stroke-dasharray", "1.4,2.4");
  g.selectAll(null).data(majorX).join("line")
    .attr("x1", d => x(d)).attr("x2", d => x(d)).attr("y1", p.top).attr("y2", p.bot)
    .attr("stroke", "#cbcbcb").attr("stroke-width", 2.2);
  g.selectAll(null).data(yMajor).join("line")
    .attr("x1", L).attr("x2", R).attr("y1", d => y(d)).attr("y2", d => y(d))
    .attr("stroke", "#cbcbcb").attr("stroke-width", 2.2);
}

function axes(p, y, yMajor, yMinor, fmt, label, showXLabels) {
  const g = svg.append("g");
  g.append("rect").attr("x", L).attr("y", p.top).attr("width", R - L).attr("height", p.bot - p.top)
    .attr("fill", "none").attr("stroke", "#000").attr("stroke-width", 2.2);
  g.selectAll(null).data(majorX).join("line")
    .attr("x1", d => x(d)).attr("x2", d => x(d)).attr("y1", p.bot).attr("y2", p.bot + 10)
    .attr("stroke", "#000").attr("stroke-width", 2.2);
  g.selectAll(null).data(minorX).join("line")
    .attr("x1", d => x(d)).attr("x2", d => x(d)).attr("y1", p.bot).attr("y2", p.bot + 5.5)
    .attr("stroke", "#000").attr("stroke-width", 1.7);
  g.selectAll(null).data(yMajor).join("line")
    .attr("x1", L - 10).attr("x2", L).attr("y1", d => y(d)).attr("y2", d => y(d))
    .attr("stroke", "#000").attr("stroke-width", 2.2);
  g.selectAll(null).data(yMinor).join("line")
    .attr("x1", L - 5.5).attr("x2", L).attr("y1", d => y(d)).attr("y2", d => y(d))
    .attr("stroke", "#000").attr("stroke-width", 1.7);
  const labs = g.selectAll(null).data(yMajor).join("text")
    .attr("x", L - 21).attr("y", d => y(d)).attr("dy", "0.36em")
    .attr("text-anchor", "end").attr("font-size", 28).text(fmt);
  const maxW = d3.max(labs.nodes(), n => n.getComputedTextLength());
  const bx = L - 21 - maxW - 24;
  const cy = (p.top + p.bot) / 2;
  g.append("text").attr("transform", `translate(${bx},${cy}) rotate(-90)`)
    .attr("text-anchor", "middle").attr("font-size", 33.5).text(label);
  if (showXLabels) {
    const fs = 23, sh = 0.707 * 1.164 * fs;
    g.selectAll(null).data(majorX).join("text")
      .attr("transform", d => `translate(${x(d) - sh},${p.bot + 21}) rotate(-45)`)
      .attr("text-anchor", "end").attr("dy", "0.93em").attr("font-size", fs)
      .text(d3.utcFormat("%b %d"));
  }
}

function legend(top, items) {
  const g = svg.append("g");
  const box = g.append("rect");
  const texts = [];
  items.forEach((it, i) => {
    const cy = top + 20.5 + i * 36.4;
    if (it.kind === "line") {
      g.append("line").attr("x1", 167).attr("x2", 221).attr("y1", cy).attr("y2", cy)
        .attr("stroke", it.color).attr("stroke-width", it.w).attr("stroke-opacity", it.op || 1)
        .attr("stroke-dasharray", it.dash || null);
    } else if (it.kind === "rect") {
      g.append("rect").attr("x", 167).attr("y", cy - 9).attr("width", 54).attr("height", 18)
        .attr("fill", it.color).attr("fill-opacity", it.op);
    } else {
      g.append("circle").attr("cx", 194).attr("cy", cy).attr("r", 7).attr("fill", it.color);
    }
    texts.push(g.append("text").attr("x", 237).attr("y", cy).attr("dy", "0.36em").attr("font-size", 24.5).text(it.label));
  });
  const maxW = d3.max(texts, t => t.node().getComputedTextLength());
  box.attr("x", 159).attr("y", top).attr("width", 237 - 159 + maxW + 11).attr("height", 41 + (items.length - 1) * 36.4)
    .attr("rx", 6).attr("fill", "#fff").attr("fill-opacity", 0.8).attr("stroke", "#cccccc").attr("stroke-width", 2.6);
}

function thresholdFill(g, data, y, thr, above, color, op, p, id) {
  const r = defs.append("clipPath").attr("id", id).append("rect").attr("x", L).attr("width", R - L);
  if (above) r.attr("y", p.top).attr("height", y(thr) - p.top);
  else r.attr("y", y(thr)).attr("height", p.bot - y(thr));
  const area = d3.area().x(d => x(d.t)).y0(y(thr)).y1(d => y(d.v));
  g.append("path").attr("d", area(data)).attr("fill", color).attr("fill-opacity", op).attr("clip-path", `url(#${id})`);
}

function hline(g, y, v, color, w, dash, op) {
  g.append("line").attr("x1", L).attr("x2", R).attr("y1", y(v)).attr("y2", y(v))
    .attr("stroke", color).attr("stroke-width", w).attr("stroke-dasharray", dash).attr("stroke-opacity", op);
}

// ---------------- PRICE PANEL ----------------
{
  const p = P.price;
  const y = d3.scaleLinear().domain(padExt([...close, ...upper, ...lower].map(d => d.v))).range([p.bot, p.top]);
  const dom = y.domain();
  const major = priceTicks.filter(v => v >= dom[0] && v <= dom[1]);
  const minor = d3.range(Math.ceil(dom[0] * 5), Math.floor(dom[1] * 5) + 1).map(i => i / 5).filter(v => Math.abs(v - Math.round(v)) > 1e-6);
  grids(p, y, major, minor);
  const g = svg.append("g").attr("clip-path", clipFor("cp-price", p.top, p.bot));
  const line = d3.line().x(d => x(d.t)).y(d => y(d.v));
  const band = line(upper) + "L" + line(lower.slice().reverse()).slice(1) + "Z";
  g.append("path").attr("d", band).attr("fill", "#95a5a6").attr("fill-opacity", 0.1);
  g.append("path").attr("d", line(upper)).attr("fill", "none").attr("stroke", "#e74c3c").attr("stroke-width", 3).attr("stroke-dasharray", "11,5");
  g.append("path").attr("d", line(middle)).attr("fill", "none").attr("stroke", "#f39c12").attr("stroke-width", 3).attr("stroke-dasharray", "11,5");
  g.append("path").attr("d", line(lower)).attr("fill", "none").attr("stroke", "#27ae60").attr("stroke-width", 3).attr("stroke-dasharray", "11,5");
  g.append("path").attr("d", line(close)).attr("fill", "none").attr("stroke", "#1f77b4").attr("stroke-width", 4.4).attr("stroke-linejoin", "round");
  g.selectAll(null).data(aboveUpperDates).join("circle")
    .attr("cx", d => x(toDate(d))).attr("cy", d => y(closeByKey.get(d))).attr("r", 7).attr("fill", "#e74c3c");
  g.selectAll(null).data(belowLowerDates).join("circle")
    .attr("cx", d => x(toDate(d))).attr("cy", d => y(closeByKey.get(d))).attr("r", 7).attr("fill", "#27ae60");
  axes(p, y, major, minor, d => d3.format("d")(d), "Price (USD)", false);
  legend(55, [
    { kind: "line", color: "#1f77b4", w: 4.4, label: "Close Price" },
    { kind: "line", color: "#e74c3c", w: 3, dash: "11,5", label: "Upper (+2.0\u03c3)" },
    { kind: "line", color: "#f39c12", w: 3, dash: "11,5", label: "Middle (SMA 20)" },
    { kind: "line", color: "#27ae60", w: 3, dash: "11,5", label: "Lower (-2.0\u03c3)" },
    { kind: "rect", color: "#95a5a6", op: 0.12, label: "Band Range" },
    { kind: "dot", color: "#e74c3c", label: "Above Upper" },
    { kind: "dot", color: "#27ae60", label: "Below Lower" }
  ]);
}

// ---------------- MACD PANEL ----------------
{
  const p = P.macd;
  const y = d3.scaleLinear().domain(padExt([...macd, ...signal, ...hist].map(d => d.v).concat([0]))).range([p.bot, p.top]);
  grids(p, y, [], []);
  const g = svg.append("g").attr("clip-path", clipFor("cp-macd", p.top, p.bot));
  const bw = x(new Date(tA + DAY)) - x(new Date(tA));
  g.selectAll(null).data(hist).join("rect")
    .attr("x", d => x(d.t) - bw / 2).attr("width", bw)
    .attr("y", d => Math.min(y(d.v), y(0))).attr("height", d => Math.abs(y(d.v) - y(0)))
    .attr("fill", d => d.v >= 0 ? "#26a69a" : "#ef5350").attr("fill-opacity", 0.7);
  hline(g, y, 0, "#808080", 2.8, "10.3,4.4", 0.85);
  const line = d3.line().x(d => x(d.t)).y(d => y(d.v));
  g.append("path").attr("d", line(macd)).attr("fill", "none").attr("stroke", "#1f77b4").attr("stroke-width", 4.4).attr("stroke-linejoin", "round");
  g.append("path").attr("d", line(signal)).attr("fill", "none").attr("stroke", "#ff7f0e").attr("stroke-width", 4.4).attr("stroke-linejoin", "round");
  axes(p, y, macdTicks, [], d => "0", "MACD", false);
  legend(1866.5, [
    { kind: "line", color: "#1f77b4", w: 4.4, label: "MACD(12,26)" },
    { kind: "line", color: "#ff7f0e", w: 4.4, label: "Signal(9)" },
    { kind: "rect", color: "#26a69a", op: 0.7, label: "Histogram" }
  ]);
}

// ---------------- %B PANEL ----------------
{
  const p = P.pb;
  const y = d3.scaleLinear().domain(padExt(pctB.map(d => d.v))).range([p.bot, p.top]);
  const dom = y.domain();
  const major = pctBTicks.filter(v => v >= dom[0] && v <= dom[1]);
  const minor = d3.range(Math.ceil(dom[0] * 10), Math.floor(dom[1] * 10) + 1).map(i => i / 10).filter(v => Math.abs(v * 2 - Math.round(v * 2)) > 1e-6);
  grids(p, y, major, minor);
  const g = svg.append("g").attr("clip-path", clipFor("cp-pb", p.top, p.bot));
  thresholdFill(g, pctB, y, 1, true, "#e74c3c", 0.2, p, "cf-pb-hi");
  thresholdFill(g, pctB, y, 0, false, "#27ae60", 0.2, p, "cf-pb-lo");
  hline(g, y, 1, "#e74c3c", 2.8, "10.3,4.4", 0.7);
  hline(g, y, 0.5, "#f39c12", 2.8, "2.8,4.6", 0.7);
  hline(g, y, 0, "#27ae60", 2.8, "10.3,4.4", 0.7);
  const line = d3.line().x(d => x(d.t)).y(d => y(d.v));
  g.append("path").attr("d", line(pctB)).attr("fill", "none").attr("stroke", "#8e44ad").attr("stroke-width", 3.3).attr("stroke-linejoin", "round");
  axes(p, y, major, minor, d3.format(".1f"), "%B", false);
  legend(2974.5, [
    { kind: "line", color: "#8e44ad", w: 3.3, label: "%B" },
    { kind: "line", color: "#e74c3c", w: 2.8, dash: "10.3,4.4", op: 0.7, label: "%B = 1 (Upper)" },
    { kind: "line", color: "#f39c12", w: 2.8, dash: "2.8,4.6", op: 0.7, label: "%B = 0.5 (Mid)" },
    { kind: "line", color: "#27ae60", w: 2.8, dash: "10.3,4.4", op: 0.7, label: "%B = 0 (Lower)" }
  ]);
}

// ---------------- RSI PANEL ----------------
{
  const p = P.rsi;
  const y = d3.scaleLinear().domain([0, 100]).range([p.bot, p.top]);
  const minor = d3.range(0, 101, 2).filter(v => v % 10 !== 0);
  grids(p, y, rsiTicks, minor);
  const g = svg.append("g").attr("clip-path", clipFor("cp-rsi", p.top, p.bot));
  thresholdFill(g, rsi, y, 70, true, "#ff0000", 0.2, p, "cf-rsi-hi");
  thresholdFill(g, rsi, y, 30, false, "#008000", 0.2, p, "cf-rsi-lo");
  hline(g, y, 70, "#ff0000", 4.2, "15.4,6.7", 0.8);
  hline(g, y, 30, "#008000", 4.2, "15.4,6.7", 0.8);
  hline(g, y, 50, "#808080", 2.8, "2.8,4.6", 0.7);
  const line = d3.line().x(d => x(d.t)).y(d => y(d.v));
  g.append("path").attr("d", line(rsi)).attr("fill", "none").attr("stroke", "#ff7f0e").attr("stroke-width", 4.2).attr("stroke-linejoin", "round");
  axes(p, y, rsiTicks, minor, d3.format("d"), "RSI(14)", true);
  legend(3615.8, [
    { kind: "line", color: "#ff7f0e", w: 4.2, label: "RSI(14)" },
    { kind: "line", color: "#ff0000", w: 4.2, dash: "15.4,6.7", op: 0.8, label: "Overbought (70)" },
    { kind: "line", color: "#008000", w: 4.2, dash: "15.4,6.7", op: 0.8, label: "Oversold (30)" }
  ]);
}

// ---------------- TITLE ----------------
svg.append("text").attr("x", 2189).attr("y", 61).attr("text-anchor", "middle")
  .attr("font-size", 49).attr("font-weight", "bold").style("white-space", "pre").text(titleText);
</script>
</body></html>
